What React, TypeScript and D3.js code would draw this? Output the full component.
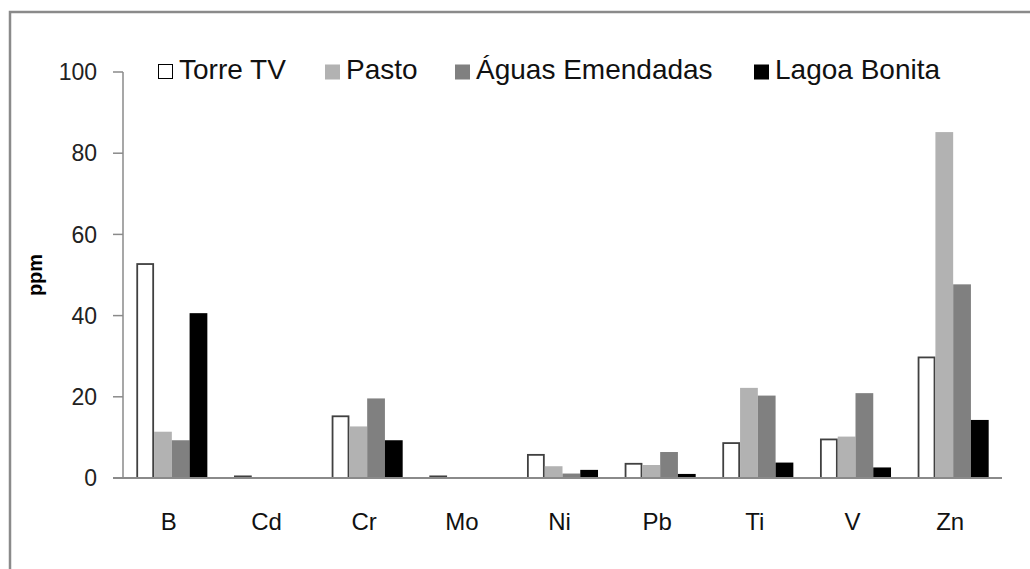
import React from "react";
import * as d3 from "d3";

const categories = ["B", "Cd", "Cr", "Mo", "Ni", "Pb", "Ti", "V", "Zn"];
const seriesNames = ["Torre TV", "Pasto", "Águas Emendadas", "Lagoa Bonita"];
const torreTV = [52.7, 0.4, 15.2, 0.4, 5.7, 3.5, 8.6, 9.5, 29.7];
const pasto = [11.4, 0, 12.7, 0, 2.9, 3.2, 22.2, 10.2, 85.2];
const aguas = [9.3, 0, 19.6, 0, 1.1, 6.4, 20.3, 20.9, 47.7];
const lagoa = [40.6, 0, 9.3, 0, 2.0, 1.0, 3.8, 2.6, 14.3];
const yTicks = [0, 20, 40, 60, 80, 100];
const yLabel = "ppm";

const seriesValues = [torreTV, pasto, aguas, lagoa];
const fills = ["#ffffff", "#b2b2b2", "#808080", "#000000"];
const strokes = ["#404040", "none", "none", "none"];

const W = 1030;
const H = 569;
const FONT = "'Liberation Sans', Arial, sans-serif";

export default function App() {
  const x = d3
    .scaleBand<string>()
    .domain(categories)
    .range([123, 1002])
    .paddingInner(1.5 / 5.5)
    .paddingOuter(0.75 / 5.5);
  const xs = d3
    .scaleBand<string>()
    .domain(seriesNames)
    .range([0, x.bandwidth()])
    .padding(0);
  const y = d3.scaleLinear().domain([0, 100]).range([478, 72]);

  const legendX = [158, 325, 455, 754];

  return (
    <svg
      width={W}
      height={H}
      style={{ position: "absolute", left: 0, top: 0, background: "#fff" }}
      fontFamily={FONT}
    >
      <rect x={0} y={0} width={W} height={H} fill="#fff" />
      <rect x={10} y={12} width={1200} height={800} fill="none" stroke="#8a8a8a" strokeWidth={2.5} />

      {/* bars */}
      {seriesValues.map((vals, si) =>
        categories.map((c, ci) => {
          const v = vals[ci];
          if (v <= 0) return null;
          const bx = (x(c) as number) + (xs(seriesNames[si]) as number);
          const by = y(v);
          const sw = si === 0 ? 1.8 : 0;
          return (
            <rect
              key={`${si}-${ci}`}
              x={bx + sw / 2}
              y={by}
              width={xs.bandwidth() - sw}
              height={y(0) - by}
              fill={fills[si]}
              stroke={strokes[si]}
              strokeWidth={sw}
            />
          );
        })
      )}

      {/* y axis */}
      <line x1={123} x2={123} y1={y(100)} y2={y(0)} stroke="#8a8a8a" strokeWidth={1.5} />
      {yTicks.map((t) => (
        <g key={t}>
          <line x1={113} x2={123} y1={y(t)} y2={y(t)} stroke="#8a8a8a" strokeWidth={1.5} />
          <text x={97} y={y(t)} dy="0.36em" textAnchor="end" fontSize={23} fill="#222">
            {t}
          </text>
        </g>
      ))}
      <text
        transform={`translate(42,275) rotate(-90)`}
        textAnchor="middle"
        fontSize={20}
        fontWeight="bold"
        fill="#000"
      >
        {yLabel}
      </text>

      {/* x axis */}
      <line x1={113} x2={1002} y1={y(0)} y2={y(0)} stroke="#8a8a8a" strokeWidth={2} />
      {categories.map((c) => (
        <text
          key={c}
          x={(x(c) as number) + x.bandwidth() / 2 - 3}
          y={530}
          textAnchor="middle"
          fontSize={24}
          fill="#111"
        >
          {c}
        </text>
      ))}

      {/* legend */}
      {seriesNames.map((s, i) => (
        <g key={s}>
          <rect
            x={legendX[i] + (i === 0 ? 0.5 : 0)}
            y={64.5}
            width={i === 0 ? 14 : 15}
            height={i === 0 ? 14 : 15}
            fill={fills[i]}
            stroke={i === 0 ? "#000" : "none"}
            strokeWidth={1}
          />
          <text x={legendX[i] + 21} y={79} fontSize={28} fill="#111">
            {s}
          </text>
        </g>
      ))}
    </svg>
  );
}
